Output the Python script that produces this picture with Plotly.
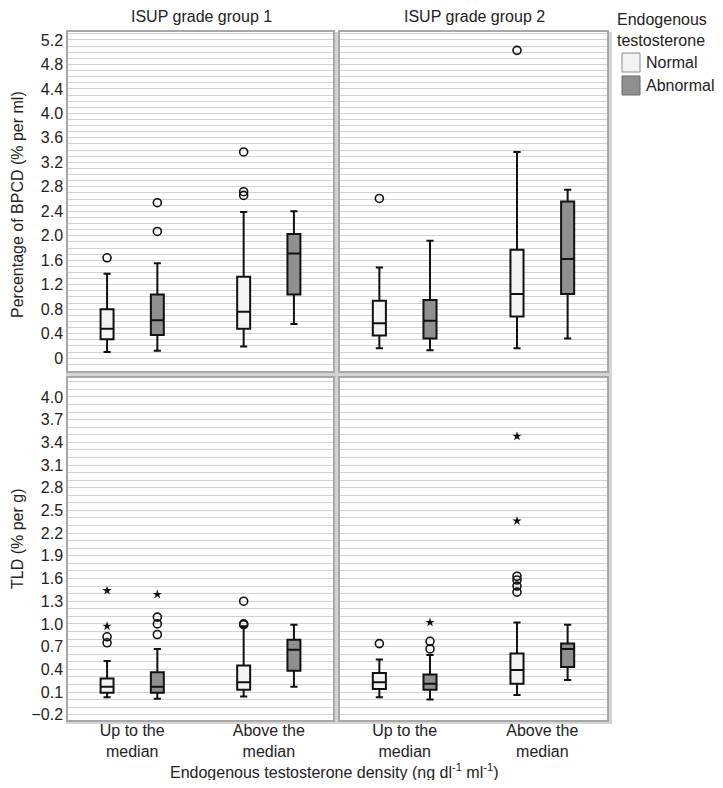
import plotly.graph_objects as go
from plotly.subplots import make_subplots

groups = ["ISUP grade group 1", "ISUP grade group 2"]
categories = ["Up to the<br>median", "Above the<br>median"]
statuses = ["Normal", "Abnormal"]

# each row: lower whisker, q1, median, q3, upper whisker
# rows ordered as categories: [Up to the median, Above the median]
bpcd_g1_normal = [[0.10, 0.31, 0.48, 0.80, 1.38], [0.19, 0.48, 0.76, 1.33, 2.39]]
bpcd_g1_abnormal = [[0.12, 0.38, 0.62, 1.04, 1.55], [0.56, 1.04, 1.71, 2.03, 2.40]]
bpcd_g2_normal = [[0.16, 0.37, 0.57, 0.94, 1.48], [0.16, 0.68, 1.05, 1.77, 3.37]]
bpcd_g2_abnormal = [[0.13, 0.32, 0.61, 0.95, 1.92], [0.32, 1.05, 1.62, 2.56, 2.75]]

tld_g1_normal = [[0.03, 0.09, 0.17, 0.28, 0.51], [0.04, 0.13, 0.23, 0.45, 0.97]]
tld_g1_abnormal = [[0.01, 0.09, 0.17, 0.36, 0.67], [0.17, 0.38, 0.66, 0.79, 0.99]]
tld_g2_normal = [[0.03, 0.14, 0.23, 0.35, 0.53], [0.06, 0.21, 0.39, 0.61, 1.02]]
tld_g2_abnormal = [[0.00, 0.13, 0.21, 0.33, 0.59], [0.26, 0.43, 0.67, 0.74, 0.99]]

# outliers (circles) and extremes (stars), per category
bpcd_g1_normal_out = [[1.64], [3.37, 2.72, 2.66]]
bpcd_g1_abnormal_out = [[2.54, 2.07], []]
bpcd_g2_normal_out = [[2.61], [5.03]]
bpcd_g2_abnormal_out = [[], []]

tld_g1_normal_out = [[0.83, 0.75], [1.30, 1.00, 0.99]]
tld_g1_abnormal_out = [[1.09, 1.00, 0.86], []]
tld_g2_normal_out = [[0.74], [1.63, 1.58, 1.50, 1.42]]
tld_g2_abnormal_out = [[0.77, 0.67], []]

tld_g1_normal_ext = [[1.44, 0.97], []]
tld_g1_abnormal_ext = [[1.39], []]
tld_g2_normal_ext = [[], [3.48, 2.36]]
tld_g2_abnormal_ext = [[1.02], []]

bpcd_ticks = [0, 0.4, 0.8, 1.2, 1.6, 2.0, 2.4, 2.8, 3.2, 3.6, 4.0, 4.4, 4.8, 5.2]
bpcd_tick_labels = ["0", "0.4", "0.8", "1.2", "1.6", "2.0", "2.4", "2.8",
                    "3.2", "3.6", "4.0", "4.4", "4.8", "5.2"]

FONT = "Liberation Sans, Arial, sans-serif"
PAGE_OFF = 8  # default body margin of the html page
W, H = 723 - 2 * PAGE_OFF, 788 - 2 * PAGE_OFF  # keep the page free of scrollbars
FILL = {"Normal": "#f3f3f3", "Abnormal": "#8f8f8f"}
OFFSET = {"Normal": -0.184, "Abnormal": 0.184}

panels = [
    (1, 1, {"Normal": (bpcd_g1_normal, bpcd_g1_normal_out, None),
            "Abnormal": (bpcd_g1_abnormal, bpcd_g1_abnormal_out, None)}),
    (1, 2, {"Normal": (bpcd_g2_normal, bpcd_g2_normal_out, None),
            "Abnormal": (bpcd_g2_abnormal, bpcd_g2_abnormal_out, None)}),
    (2, 1, {"Normal": (tld_g1_normal, tld_g1_normal_out, tld_g1_normal_ext),
            "Abnormal": (tld_g1_abnormal, tld_g1_abnormal_out, tld_g1_abnormal_ext)}),
    (2, 2, {"Normal": (tld_g2_normal, tld_g2_normal_out, tld_g2_normal_ext),
            "Abnormal": (tld_g2_abnormal, tld_g2_abnormal_out, tld_g2_abnormal_ext)}),
]

fig = make_subplots(rows=2, cols=2)

for row, col, data in panels:
    for st in statuses:
        stats, outs, exts = data[st]
        pos = [i + OFFSET[st] for i in range(len(categories))]
        fig.add_trace(go.Box(
            x=pos,
            lowerfence=[s[0] for s in stats], q1=[s[1] for s in stats],
            median=[s[2] for s in stats], q3=[s[3] for s in stats],
            upperfence=[s[4] for s in stats],
            width=0.095, whiskerwidth=0.55,
            fillcolor=FILL[st], line=dict(color="#111111", width=2),
            name=st, showlegend=False, hoverinfo="skip",
        ), row=row, col=col)
        ox, oy = [], []
        for i, vals in enumerate(outs):
            ox += [pos[i]] * len(vals)
            oy += vals
        if oy:
            fig.add_trace(go.Scatter(
                x=ox, y=oy, mode="markers", showlegend=False, hoverinfo="skip",
                marker=dict(symbol="circle-open", size=8, color="#111111",
                            line=dict(width=1.6)),
            ), row=row, col=col)
        if exts:
            ex, ey = [], []
            for i, vals in enumerate(exts):
                ex += [pos[i]] * len(vals)
                ey += vals
            if ey:
                fig.add_trace(go.Scatter(
                    x=ex, y=ey, mode="markers", showlegend=False, hoverinfo="skip",
                    marker=dict(symbol="star", size=7, color="#111111"),
                ), row=row, col=col)

# panel geometry in screen pixels
col_x = [(68, 333), (340, 607)]
row_y = [(32, 371), (378, 720)]


def px_x(v):
    return (v - PAGE_OFF) / W


def px_y(v):
    return 1 - (v - PAGE_OFF) / H


axis_common = dict(showline=True, mirror=True, linecolor="#a8a8a8", linewidth=1.5,
                   zeroline=False, ticks="", tickfont=dict(family=FONT, size=16, color="#222222"))

for r in range(2):
    for c in range(2):
        idx = r * 2 + c + 1
        sx = "" if idx == 1 else str(idx)
        x0, x1 = col_x[c]
        y0, y1 = row_y[r]
        fig.layout["xaxis" + sx].update(
            domain=[px_x(x0), px_x(x1)], range=[-0.47, 1.47],
            tickvals=list(range(len(categories))), ticktext=categories,
            ticklabelstandoff=-5,
            showticklabels=(r == 1), showgrid=False, **axis_common)
        yopts = dict(domain=[px_y(y1), px_y(y0)], showticklabels=(c == 0),
                     showgrid=True, gridcolor="#d2d2d2", gridwidth=1, **axis_common)
        if r == 0:
            yopts.update(range=[-0.21, 5.33], tickvals=bpcd_ticks, ticktext=bpcd_tick_labels,
                         minor=dict(tick0=0, dtick=0.1, showgrid=True,
                                    gridcolor="#d2d2d2", gridwidth=1))
        else:
            yopts.update(range=[-0.27, 4.25], tick0=-0.2, dtick=0.3, tickformat=".1f",
                         minor=dict(tick0=-0.2, dtick=0.1, showgrid=True,
                                    gridcolor="#d2d2d2", gridwidth=1))
        fig.layout["yaxis" + sx].update(**yopts)

shapes = [
    dict(type="rect", xref="paper", yref="paper", x0=px_x(333), x1=px_x(340),
         y0=px_y(722), y1=px_y(32), fillcolor="#d4d4d4", line_width=0, layer="below"),
    dict(type="rect", xref="paper", yref="paper", x0=px_x(66), x1=px_x(611),
         y0=px_y(378), y1=px_y(371), fillcolor="#d4d4d4", line_width=0, layer="below"),
    dict(type="rect", xref="paper", yref="paper", x0=px_x(607), x1=px_x(612),
         y0=px_y(724), y1=px_y(32), fillcolor="#d4d4d4", line_width=0, layer="below"),
    dict(type="rect", xref="paper", yref="paper", x0=px_x(66), x1=px_x(612),
         y0=px_y(724), y1=px_y(720), fillcolor="#d4d4d4", line_width=0, layer="below"),
    # legend swatches
    dict(type="rect", xref="paper", yref="paper", x0=px_x(622), x1=px_x(640),
         y0=px_y(72), y1=px_y(53), fillcolor=FILL["Normal"],
         line=dict(color="#8a8a8a", width=1)),
    dict(type="rect", xref="paper", yref="paper", x0=px_x(622), x1=px_x(640),
         y0=px_y(95), y1=px_y(76), fillcolor=FILL["Abnormal"],
         line=dict(color="#6a6a6a", width=1)),
]

tf = dict(family=FONT, size=16, color="#222222")


def label(text, x, y, xanchor="center", **kw):
    return dict(text=text, x=px_x(x), y=px_y(y), xref="paper", yref="paper",
                xanchor=xanchor, yanchor="middle", showarrow=False, font=tf, **kw)


annotations = [
    label(groups[0], 201, 16),
    label(groups[1], 474, 16),
    label("Percentage of BPCD (% per ml)", 17, 205, textangle=-90),
    label("TLD (% per g)", 17, 539, textangle=-90),
    label("Endogenous testosterone density (ng dl<sup>-1</sup> ml<sup>-1</sup>)", 334, 771),
    label("Endogenous<br>testosterone", 615, 30, xanchor="left", align="left"),
    label("Normal", 644, 62, xanchor="left"),
    label("Abnormal", 644, 85, xanchor="left"),
]

fig.update_layout(
    width=W, height=H, template="none",
    margin=dict(l=0, r=0, t=0, b=0),
    paper_bgcolor="white", plot_bgcolor="white",
    font=tf, showlegend=False,
    shapes=shapes, annotations=annotations,
)

fig.write_html("out.html")
